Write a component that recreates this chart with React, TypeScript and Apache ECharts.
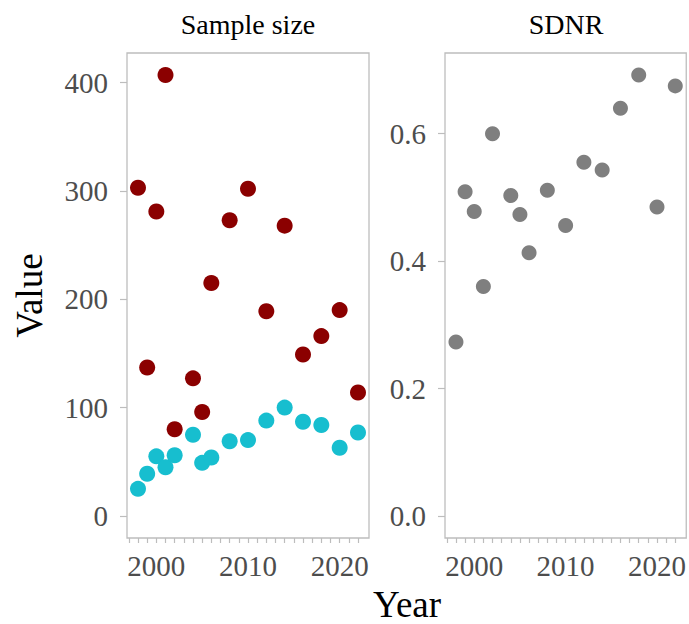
import React, { useEffect, useRef } from "react";
import * as echarts from "echarts";

const years = [1998, 1999, 2000, 2001, 2002, 2004, 2005, 2006, 2008, 2010, 2012, 2014, 2016, 2018, 2020, 2022];
const sampleRed = [303, 137, 281, 407, 80, 127, 96, 215, 273, 302, 189, 268, 149, 166, 190, 114];
const sampleCyan = [25, 39, 55, 45, 56, 75, 49, 54, 69, 70, 88, 100, 87, 84, 63, 77];
const sdnr = [0.273, 0.509, 0.478, 0.36, 0.6, 0.503, 0.473, 0.413, 0.511, 0.456, 0.555, 0.543, 0.64, 0.692, 0.485, 0.675];

const xLabelTicks = [2000, 2010, 2020];
const xMinorTicks = [1997, 1998, 1999, 2000, 2001, 2002, 2003, 2004, 2005, 2006, 2007, 2008, 2009, 2010, 2011, 2012, 2013, 2014, 2015, 2016, 2017, 2018, 2019, 2020, 2021, 2022];
const leftYTicks = [0, 100, 200, 300, 400];
const rightYTicks = [0, 0.2, 0.4, 0.6];

const FONT = '"Liberation Serif", "Times New Roman", serif';
const TICK_COLOR = "#4d4d4d";
const LINE_COLOR = "#bdbdbd";

export default function App() {
  const ref = useRef<HTMLDivElement>(null);
  useEffect(() => {
    if (!ref.current) return;
    const chart = echarts.init(ref.current, null, { renderer: "svg" });
    const xAxisBase = (gridIndex: number) => ({
      type: "value" as const,
      gridIndex,
      min: 1996.8,
      max: 2023.2,
      axisLine: { show: false, onZero: false },
      splitLine: { show: false },
      axisTick: { show: true, customValues: xMinorTicks, length: 5, lineStyle: { color: LINE_COLOR, width: 1.2 } },
      axisLabel: {
        customValues: xLabelTicks,
        margin: 13,
        color: TICK_COLOR,
        fontFamily: FONT,
        fontSize: 29,
        formatter: (v: number) => String(v),
      },
    });
    const yAxisBase = (gridIndex: number, min: number, max: number, ticks: number[], fmt: (v: number) => string) => ({
      type: "value" as const,
      gridIndex,
      min,
      max,
      axisLine: { show: false, onZero: false },
      splitLine: { show: false },
      axisTick: { show: true, customValues: ticks, length: 7, lineStyle: { color: LINE_COLOR, width: 1.2 } },
      axisLabel: {
        customValues: ticks,
        margin: 19,
        color: TICK_COLOR,
        fontFamily: FONT,
        fontSize: 29,
        formatter: fmt,
      },
    });
    chart.setOption({
      animation: false,
      backgroundColor: "#ffffff",
      grid: [
        { left: 127, top: 53, width: 242, height: 485, show: true, borderColor: LINE_COLOR, borderWidth: 1.3, backgroundColor: "transparent" },
        { left: 445, top: 53, width: 242, height: 485, show: true, borderColor: LINE_COLOR, borderWidth: 1.3, backgroundColor: "transparent" },
      ],
      xAxis: [xAxisBase(0), xAxisBase(1)],
      yAxis: [
        {
          ...yAxisBase(0, -20.35, 427.35, leftYTicks, (v: number) => String(v)),
          name: "Value",
          nameLocation: "middle",
          nameGap: 79,
          nameRotate: 90,
          nameTextStyle: { fontFamily: FONT, fontSize: 37, color: "#000000" },
        },
        yAxisBase(1, -0.0346, 0.7266, rightYTicks, (v: number) => v.toFixed(1)),
      ],
      series: [
        {
          type: "scatter",
          xAxisIndex: 0,
          yAxisIndex: 0,
          symbolSize: 16,
          itemStyle: { color: "#8b0000", opacity: 1 },
          data: years.map((y, i) => [y, sampleRed[i]]),
        },
        {
          type: "scatter",
          xAxisIndex: 0,
          yAxisIndex: 0,
          symbolSize: 16,
          itemStyle: { color: "#17becf", opacity: 1 },
          data: years.map((y, i) => [y, sampleCyan[i]]),
        },
        {
          type: "scatter",
          xAxisIndex: 1,
          yAxisIndex: 1,
          symbolSize: 15,
          itemStyle: { color: "#7f7f7f", opacity: 1 },
          data: years.map((y, i) => [y, sdnr[i]]),
        },
      ],
      graphic: [
        { type: "text", x: 248, y: 24, style: { text: "Sample size", fontFamily: FONT, fontSize: 28, fill: "#000", textAlign: "center", textVerticalAlign: "middle" } },
        { type: "text", x: 566, y: 24, style: { text: "SDNR", fontFamily: FONT, fontSize: 28, fill: "#000", textAlign: "center", textVerticalAlign: "middle" } },
        { type: "text", x: 407, y: 604, style: { text: "Year", fontFamily: FONT, fontSize: 37, fill: "#000", textAlign: "center", textVerticalAlign: "middle" } },
      ],
    });
    return () => chart.dispose();
  }, []);
  return <div ref={ref} style={{ position: "fixed", left: 0, top: 0, width: 689, height: 624 }} />;
}
